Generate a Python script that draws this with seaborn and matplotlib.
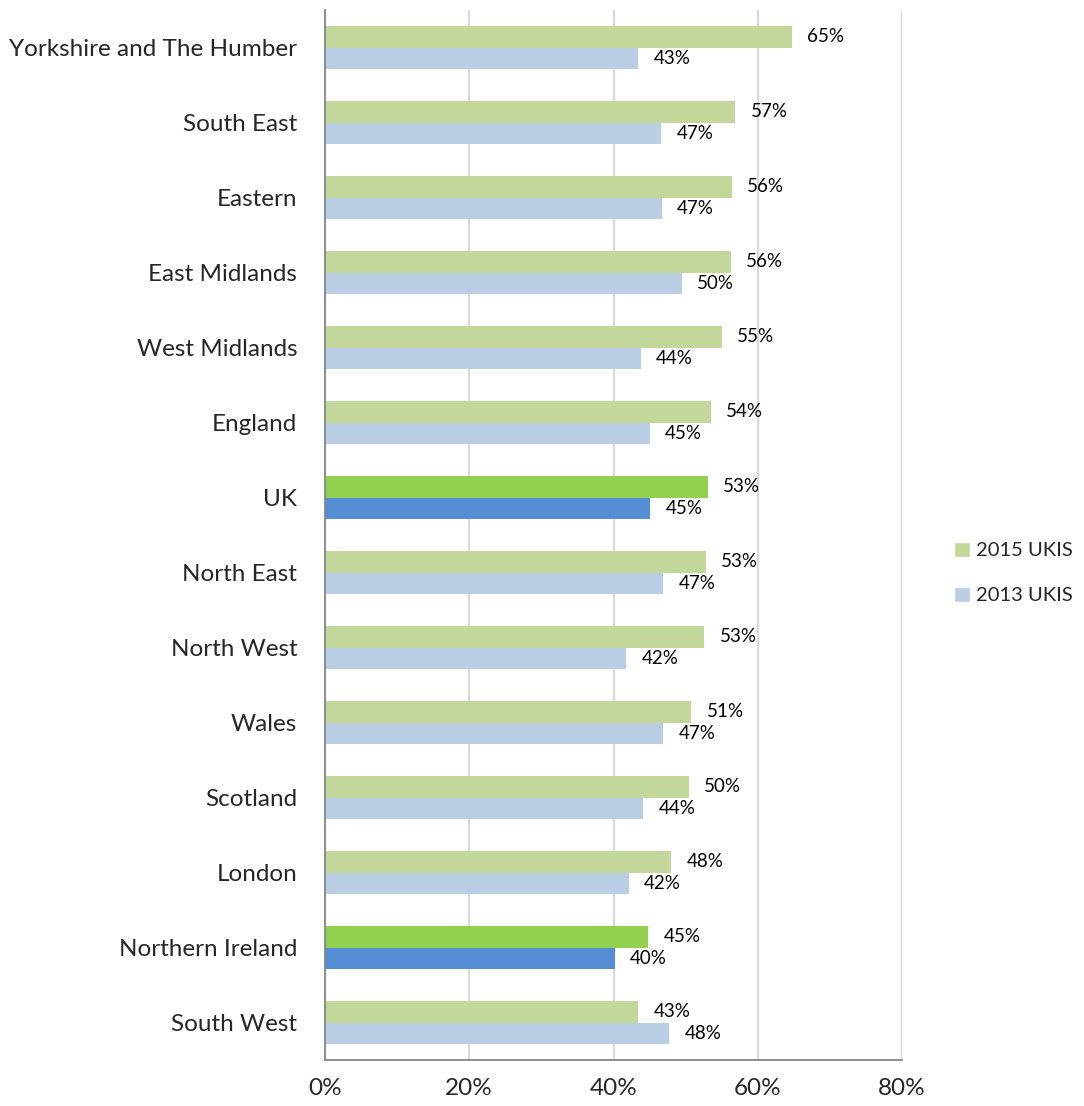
import matplotlib
matplotlib.use("Agg")
import matplotlib.pyplot as plt
import seaborn as sns
import pandas as pd
import numpy as np
from matplotlib.ticker import FixedLocator, PercentFormatter

regions = [
    "Yorkshire and The Humber", "South East", "Eastern", "East Midlands",
    "West Midlands", "England", "UK", "North East", "North West", "Wales",
    "Scotland", "London", "Northern Ireland", "South West",
]
ukis_2015 = [64.7, 56.9, 56.4, 56.3, 55.0, 53.5, 53.1, 52.8, 52.6, 50.8, 50.4, 48.0, 44.8, 43.4]
ukis_2013 = [43.4, 46.6, 46.7, 49.5, 43.8, 45.0, 45.1, 46.9, 41.8, 46.9, 44.1, 42.1, 40.2, 47.7]
surveys = ["2015 UKIS", "2013 UKIS"]
highlighted = ["UK", "Northern Ireland"]

base_colors = {"2015 UKIS": "#C4D79B", "2013 UKIS": "#B9CDE5"}
strong_colors = {"2015 UKIS": "#92D050", "2013 UKIS": "#558ED5"}

df = pd.DataFrame({
    "Region": regions * 2,
    "Survey": [surveys[0]] * len(regions) + [surveys[1]] * len(regions),
    "Share": ukis_2015 + ukis_2013,
})

sns.set_style("white")
plt.rcParams["font.family"] = ["Lato", "DejaVu Sans"]

fig = plt.figure(figsize=(10.84, 11.06), dpi=100)
ax = fig.add_axes([325 / 1084, 1 - 1060 / 1106, (902 - 325) / 1084, 1050 / 1106])

sns.barplot(data=df, y="Region", x="Share", hue="Survey", order=regions,
            hue_order=surveys, palette=base_colors, width=0.575,
            orient="h", ax=ax, legend=True, saturation=1)

# emphasise the UK and Northern Ireland rows
for survey, container in zip(surveys, ax.containers):
    for region, bar in zip(regions, container):
        bar.set_edgecolor("none")
        if region in highlighted:
            bar.set_facecolor(strong_colors[survey])
    values = ukis_2015 if survey == surveys[0] else ukis_2013
    ax.bar_label(container, labels=[f"{v:.0f}%" for v in values],
                 padding=11, fontsize=13.5, color="black")

ax.set_xlim(0, 80)
ax.set_ylim(len(regions) - 0.5, -0.5)
ax.xaxis.set_major_locator(FixedLocator([0, 20, 40, 60, 80]))
ax.xaxis.set_major_formatter(PercentFormatter(decimals=0))
ax.grid(axis="x", color="#D9D9D9", linewidth=1.6)
ax.grid(axis="y", visible=False)
ax.set_axisbelow(True)

ax.set_xlabel("")
ax.set_ylabel("")
ax.yaxis.set_minor_locator(FixedLocator(np.arange(-0.5, len(regions), 1.0)))
ax.tick_params(axis="y", which="major", length=0, pad=20, labelsize=17.5)
ax.tick_params(axis="y", which="minor", length=6, width=1.3, color="#868686")
ax.tick_params(axis="x", which="major", length=6, width=1.3, color="#868686",
               labelsize=17.5, pad=7)

for side in ("top", "right"):
    ax.spines[side].set_visible(False)
for side in ("left", "bottom"):
    ax.spines[side].set_color("#868686")
    ax.spines[side].set_linewidth(1.3)

handles, labels = ax.get_legend_handles_labels()
ax.legend(handles, labels, loc="center left", bbox_to_anchor=(936 / 1084, 1 - 573 / 1106),
          bbox_transform=fig.transFigure, frameon=False, fontsize=14.5,
          handlelength=0.8, handleheight=0.8, handletextpad=0.3, labelspacing=1.35)

fig.savefig("out.png", dpi=100, facecolor="white")
